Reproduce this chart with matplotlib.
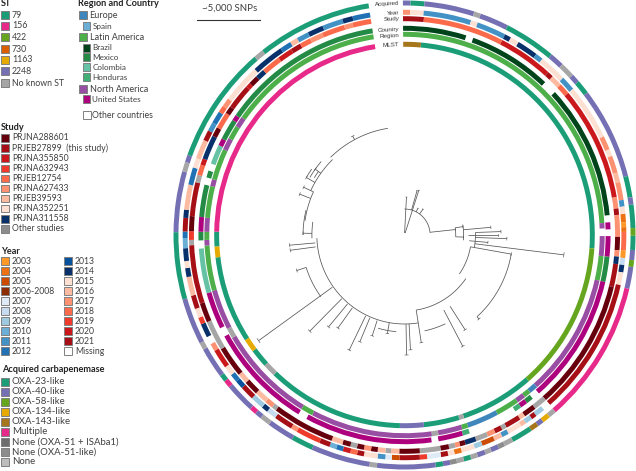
import numpy as np
import matplotlib
matplotlib.use("Agg")
import matplotlib.pyplot as plt
from matplotlib.patches import Rectangle

W, H = 636, 471
CX, CY = 404.5, 235.0

# ---- category colours ----
COL = {
    "79": "#1b9e77", "156": "#e7298a", "422": "#66a61e", "730": "#d95f02", "1163": "#e6ab02",
    "2248": "#7570b3", "143": "#a6761d", "g": "#a6a6a6", "d": "#8c8c8c", "W": "#ffffff",
    "EU": "#3f86bd", "ES": "#6baed6", "LA": "#4daf4a", "BR": "#00441b", "MX": "#238b45",
    "CO": "#66c2a4", "HN": "#41ae76", "NA": "#984ea3", "US": "#ae017e",
    "s1": "#67000d", "s2": "#a50f15", "s3": "#cb181d", "s4": "#ef3b2c", "s5": "#fb6a4a",
    "s6": "#fc9272", "s7": "#fcbba1", "s8": "#fee0d2", "s9": "#08306b",
    "y03": "#fe9929", "y04": "#ec7014", "y05": "#cc4c02", "y06": "#8c2d04", "y07": "#deebf7",
    "y08": "#c6dbef", "y09": "#9ecae1", "y10": "#6baed6", "y11": "#4292c6", "y12": "#2171b5",
    "y13": "#08519c", "y14": "#08306b", "y15": "#fee0d2", "y16": "#fcbba1", "y17": "#fc9272",
    "y18": "#fb6a4a", "y19": "#ef3b2c", "y20": "#cb181d", "y21": "#a50f15",
}

# ---- rings: category sequence and the tip position at which each block ends ----
mlst_cat = ["143","79","422","79","g","79","2248","79","g","79","1163","79","1163","79","156"]
mlst_end = [5,94,139.2,161.7,163.2,174.1,181.4,223.5,227.4,233,237,263.3,266.6,271,351]

region_cat = ["LA","NA","W","NA","LA","NA","EU","LA","NA","LA","EU","LA","NA","g","NA","LA","NA","g","NA","LA","NA","LA","NA","LA","NA","LA","NA","LA","NA","LA"]
region_end = [86.6,88.2,90.3,96,103,138.5,141,143,145.5,152.2,161.4,163.2,170.2,172.1,207.5,211,239.5,242.5,254,267,268.6,270.9,274.9,284,286,295,298.5,302.5,305.5,351]

country_cat = ["BR","W","BR","W","BR","W","US","W","US","MX","US","W","MX","US","HN","W","HN","US","W","US","W","US","W","US","CO","W","MX","US","MX","W","MX","W","CO","US","MX","US","MX"]
country_end = [17.5,19.5,43.1,46.9,84.6,86.5,88.5,90.3,96,103,139.3,141.5,143.5,145.5,147.5,161.5,163.5,170.5,172.4,208.5,211,241,243.5,253.8,266.3,268.5,270.9,275,284,286,288,290,295.5,297.5,303.4,305,351]

study_seq = [("s2",5.2),("s5",27),("s3",41.9),("s2",43.5),("s7",46.5),("s5",49.5),("s3",80),("s6",83),("s2",84.7),("s6",90.5),("s1",94),("s6",95.7),("s9",97.7),("s2",103.8),("s1",139),("g",142.6),("s1",146),("s7",147.5),("s2",151.7),("g",153),("s2",155),("s6",157.2),("g",160.5),("s9",163.5),("s1",165),("s6",166.3),("g",168),("s1",170.3),("g",175.9),("s1",181.4),("s7",183.6),("g",185.1),("s7",187.2),("s1",189),("s6",190.9),("s1",192.8),("g",194.6),("s1",196.8),("s7",199.8),("s1",216.7),("g",218),("s6",220.2),("s7",223.6),("s1",227.5),("s7",230.3),("s1",238.5),("g",246.5),("s1",251.7),("s2",267.3),("g",268.7),("s4",271),("s1",275),("s2",284),("g",286),("s5",288.8),("s3",290.5),("s9",297),("s1",299.5),("s5",304),("s1",306),("s2",312.7),("s3",314),("s1",316.5),("s9",319),("s5",324.2),("s3",328.2),("s2",331),("s5",334),("s6",337.5),("s5",343.7),("s6",346),("s5",351)]
study_cat = [c for c, _ in study_seq]
study_end = [e for _, e in study_seq]

year_seq = [("y17",1.5),("y15",5),("y11",17.5),("y15",19.3),("y11",27),("y14",28.7),("y15",31),("y14",36.5),("y11",38.5),("y15",45.7),("y11",49.5),("y15",64),("y17",67.6),("y15",69.4),("y17",73.9),("y16",76.4),("y17",81),("y11",82.7),("y15",84.6),("y04",86.7),("y03",88),("y04",89.2),("y18",93.9),("y03",95.9),("y08",97.7),("y14",99.6),("y15",102.9),("y21",139),("W",141),("y09",143.5),("y21",144.9),("y09",146.8),("y16",148.2),("y15",152),("y11",153.8),("y16",156),("y05",159.4),("y09",161.5),("y15",165),("y04",166.9),("y15",168.6),("y21",170.5),("y07",174.1),("y19",176),("y21",181.3),("y05",183.3),("y07",185),("y11",187),("y15",190.6),("y21",192.4),("y18",194.2),("y20",196.2),("y12",198),("y10",199.8),("y21",202.6),("y19",209.1),("y17",210.8),("y21",215.7),("y08",218.3),("y14",220),("y09",223.5),("y21",227.2),("y13",229.4),("y12",231.5),("y15",234),("y20",239),("y17",241),("W",243),("y14",246.6),("y19",248.4),("y15",250.8),("y21",254.3),("y16",259.2),("y14",261.5),("y15",263.3),("y14",266.6),("y10",269.2),("y12",270.9),("y21",274.4),("y14",276.5),("y16",283),("y12",287.5),("y15",290),("y16",295),("y21",297.7),("y11",300),("y12",303.2),("y18",305),("y17",307.3),("y15",317.5),("y14",326),("y12",329),("y16",331),("y11",334.2),("y14",338.3),("y11",343.7),("y14",346.4),("y12",351)]
year_cat = [c for c, _ in year_seq]
year_end = [e for _, e in year_seq]

acq_seq = [("2248",1.5),("79",5),("2248",17.6),("g",19.3),("2248",26.6),("79",39.6),("2248",43.2),("g",46.9),("2248",49),("79",52.5),("2248",75.4),("79",80.7),("2248",82.5),("79",88.3),("422",90.2),("79",93.7),("2248",96.2),("422",97.9),("2248",103.3),("156",139.1),("g",141),("1163",143),("2248",144.6),("143",146.6),("79",151.9),("g",154.2),("d",155.8),("2248",157.8),("g",159.4),("2248",161.4),("g",163.2),("79",165),("g",166.8),("d",168.5),("2248",170.3),("79",172.2),("2248",186.9),("g",188.8),("2248",203.7),("79",209.2),("2248",216),("g",218.6),("2248",220.3),("156",222),("2248",229.5),("156",231.3),("79",233),("2248",240.7),("g",242.5),("2248",254),("79",270.7),("2248",285.8),("g",288.2),("2248",290),("79",319.5),("g",322),("79",351)]
acq_cat = [c for c, _ in acq_seq]
acq_end = [e for _, e in acq_seq]

rings = [
    ("Acquired", acq_cat, acq_end, 232.0, 3.5),
    ("Year", year_cat, year_end, 222.7, 12.5),
    ("Study", study_cat, study_end, 216.3, 19.0),
    ("Country", country_cat, country_end, 206.7, 29.0),
    ("Region", region_cat, region_end, 200.7, 35.0),
    ("MLST", mlst_cat, mlst_end, 190.7, 44.5),
]

# ---- tree: arcs (radius, from, to) and spokes (angle, from radius, to radius) ----
tree_arcs = [(108,351,316),(105,316,295),(102,295,278),(94,278,268),(89,268,171),(76,171,125),
             (68,125,100),(26,0,85),(110,100,138),(103,270,284),(105,252,234),(112,301,311),
             (115,300,305),(108,302,306),(52,82,92),(60,80,95),(72,88,100),(97,185,196),(98,155,168)]
tree_spokes = [(3,2,38),(18,2,47),(16,26,46),(36,26,32),(27,26,30),(84,26,52),(82,52,60),(92,52,60),
               (85,60,88),(90,64,95),(95,66,85),(88,72,98),(92,72,104),(97,72,163),(100,68,110),
               (138,110,113),(179,89,120),(177,89,115),(171,76,109),(152,85,126),(147,85,113),
               (206,90,128),(203,90,116),(198,90,106),(190,89,100),(234.5,90,182),(225,90,136),
               (220,90,120),(216,90,115),(265,91,117),(262.5,91,117),(252,105,115),(295,102,113),
               (291,102,114),(332,108,112),(271,94,103),(300,105,115),(306,105,112)]

# ---- legends ----
st_labels = ["79","156","422","730","1163","2248","No known ST"]
st_colors = ["79","156","422","730","1163","2248","g"]
study_labels = ["PRJNA288601","PRJEB27899  (this study)","PRJNA355850","PRJNA632943","PRJEB12754",
                "PRJNA627433","PRJEB39593","PRJNA352251","PRJNA311558","Other studies"]
study_colors = ["s1","s2","s3","s4","s5","s6","s7","s8","s9","d"]
year_left = ["2003","2004","2005","2006-2008","2007","2008","2009","2010","2011","2012"]
year_left_c = ["y03","y04","y05","y06","y07","y08","y09","y10","y11","y12"]
year_right = ["2013","2014","2015","2016","2017","2018","2019","2020","2021","Missing"]
year_right_c = ["y13","y14","y15","y16","y17","y18","y19","y20","y21","W"]
acq_labels = ["OXA-23-like","OXA-40-like","OXA-58-like","OXA-134-like","OXA-143-like","Multiple",
              "None (OXA-51 + ISAba1)","None (OXA-51-like)","None"]
acq_colors = ["79","2248","422","1163","143","156","#6e6e6e","d","#bdbdbd"]

plt.rcParams["font.family"] = ["Lato", "DejaVu Sans"]
fig = plt.figure(figsize=(W / 100, H / 100), dpi=100, facecolor="white")

# polar axes, very slightly narrower than tall like the reference
RMAX = 240.0
XS = 0.985
ax = fig.add_axes([(CX - RMAX * XS) / W, (H - CY - RMAX) / H, 2 * RMAX * XS / W, 2 * RMAX / H],
                  projection="polar")
ax.set_aspect("auto")
ax.set_theta_zero_location("N")
ax.set_theta_direction(-1)
ax.set_ylim(0, RMAX)
ax.set_axis_off()
ax.patch.set_alpha(0)

for name, cats, ends, rad, _ in rings:
    ends = np.asarray(ends, float)
    starts = np.concatenate([[-0.4], ends[:-1]])
    ax.bar(np.radians((starts + ends) / 2), 5.0, width=np.radians(ends - starts), bottom=rad - 2.5,
           color=[COL[c] for c in cats], linewidth=0, align="center")

TC = "#555555"
for r, a, b in tree_arcs:
    t = np.radians(np.linspace(a, b, 40))
    ax.plot(t, np.full_like(t, r), color=TC, lw=0.55, solid_capstyle="butt")
for a, r1, r2 in tree_spokes:
    ax.plot(np.radians([a, a]), [r1, r2], color=TC, lw=0.55, solid_capstyle="butt")
# small end bars at the tree tips
for a, r1, r2 in tree_spokes:
    ax.plot(np.radians([a - 0.8, a + 0.8]), [r2, r2], color=TC, lw=0.45)

# overlay in pixel coordinates
ov = fig.add_axes([0, 0, 1, 1])
ov.set_xlim(0, W)
ov.set_ylim(H, 0)
ov.set_axis_off()
ov.patch.set_alpha(0)

TXT = "#404040"

def colour(c):
    return COL.get(c, c)

def entry(sx, tx, y, label, c, fs, size=7.6):
    ov.add_patch(Rectangle((sx - size / 2, y - size / 2), size, size, facecolor=colour(c),
                           edgecolor="#808080", lw=0.7))
    ov.text(tx, y, label, fontsize=fs, color=TXT, va="center", ha="left")

def title(x, y, s):
    ov.text(x, y, s, fontsize=6.6, fontweight="bold", color="#222222", va="center", ha="left")

title(1, 4, "ST")
for y, lab, c in zip([15, 26, 37, 49, 60, 71, 83], st_labels, st_colors):
    entry(5, 12, y, lab, c, 6.3)

title(78, 4, "Region and Country")
region_main = [("Europe", "EU", 15), ("Latin America", "LA", 37), ("North America", "NA", 89)]
for lab, c, y in region_main:
    entry(83, 89.5, y, lab, c, 6.5)
region_sub = [("Spain", "ES", 26), ("Brazil", "BR", 48), ("Mexico", "MX", 57), ("Colombia", "CO", 67),
              ("Honduras", "HN", 77), ("United States", "US", 99)]
for lab, c, y in region_sub:
    entry(86.5, 92.5, y, lab, c, 5.9)
entry(87, 92.5, 115, "Other countries", "W", 6.3)

title(1, 127, "Study")
for y, lab, c in zip(np.arange(138, 230, 10.1), study_labels, study_colors):
    entry(5, 12, y, lab, c, 6.2)

title(1, 251, "Year")
for y, lab, c in zip(np.arange(261, 352, 10), year_left, year_left_c):
    entry(5, 12, y, lab, c, 6.2)
for y, lab, c in zip(np.arange(261, 352, 10), year_right, year_right_c):
    entry(68, 75, y, lab, c, 6.2)

title(2, 370, "Acquired carbapenemase")
for y, lab, c in zip(np.arange(382, 463, 10), acq_labels, acq_colors):
    entry(5, 12, y, lab, c, 6.9)

# ring labels
for name, _, _, _, y in rings:
    ov.text(399.5, y, name, fontsize=4.5, family="Liberation Sans", color="#333333",
            ha="right", va="center", rotation=3, rotation_mode="anchor")

# scale bar
ov.plot([197, 260], [20, 20], color="#333333", lw=0.8)
ov.text(229.5, 8, "~5,000 SNPs", fontsize=7.0, color=TXT, ha="center", va="center")

fig.savefig("out.png", dpi=100, facecolor="white")
